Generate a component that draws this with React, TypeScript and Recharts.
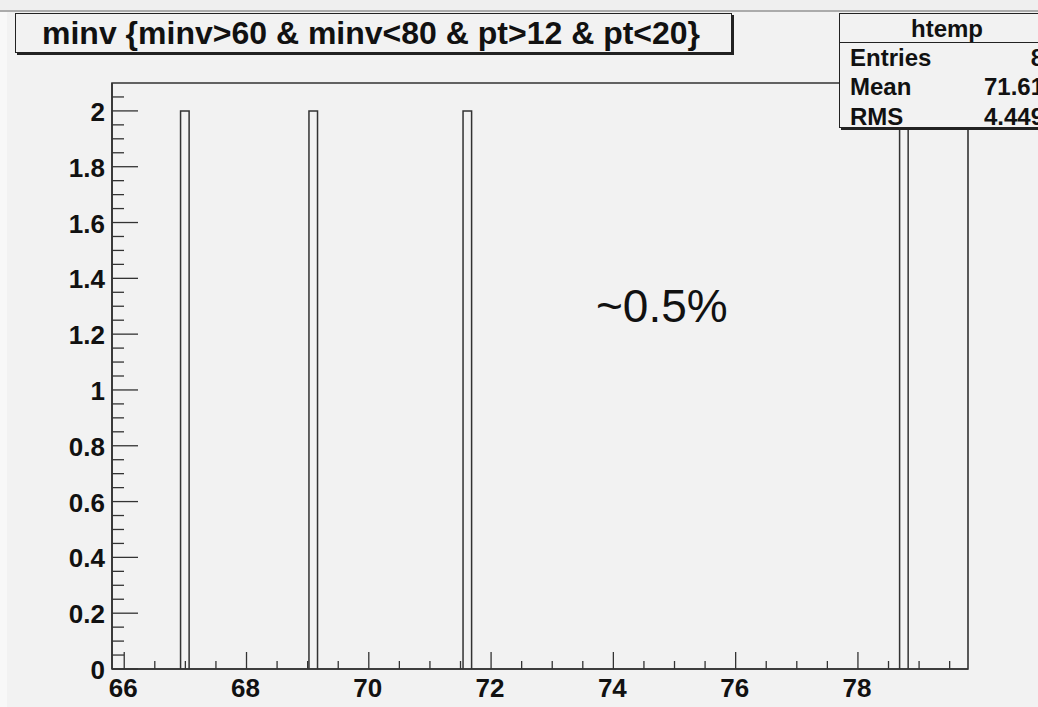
import React from "react";
import { Bar, BarChart, ReferenceArea, XAxis, YAxis } from "recharts";

// histogram htemp: 100 bins of 0.14 between 65.8 and 79.8, only 4 filled
const binCenters = [66.99, 69.09, 71.61, 78.75];
const binCounts = [2, 2, 2, 2];
const binWidth = 0.14;
const xRange = [65.8, 79.8];
const yRange = [0, 2.1];

const xMajorTicks = [66, 68, 70, 72, 74, 76, 78];
const xTicks = [
  66, 66.5, 67, 67.5, 68, 68.5, 69, 69.5, 70, 70.5, 71, 71.5, 72, 72.5,
  73, 73.5, 74, 74.5, 75, 75.5, 76, 76.5, 77, 77.5, 78, 78.5, 79, 79.5
];
const yMajorTicks = [0, 0.2, 0.4, 0.6, 0.8, 1, 1.2, 1.4, 1.6, 1.8, 2];
const yTicks = [
  0, 0.05, 0.1, 0.15, 0.2, 0.25, 0.3, 0.35, 0.4, 0.45, 0.5, 0.55, 0.6, 0.65,
  0.7, 0.75, 0.8, 0.85, 0.9, 0.95, 1, 1.05, 1.1, 1.15, 1.2, 1.25, 1.3, 1.35,
  1.4, 1.45, 1.5, 1.55, 1.6, 1.65, 1.7, 1.75, 1.8, 1.85, 1.9, 1.95, 2, 2.05
];

const title = "minv {minv>60 & minv<80 & pt>12 & pt<20}";
const statsName = "htemp";
const statsLabels = ["Entries", "Mean", "RMS"];
const statsValues = ["8", "71.61", "4.449"];
const note = "~0.5%";

const W = 1038;
const H = 707;
const margin = { top: 83, right: 70, bottom: 0, left: 52 };
const yAxisWidth = 60;
const xAxisHeight = 38;
const plotWidth = W - margin.left - margin.right - yAxisWidth;
const barSize = (plotWidth * binWidth) / (xRange[1] - xRange[0]);

const ink = "#333";
const bg = "#f2f2f2";
const font = '"Liberation Sans", Arial, Helvetica, sans-serif';

const data = binCenters.map((x, i) => ({ x, n: binCounts[i] }));

const isMajor = (list: number[], v: number) => list.some((m) => Math.abs(m - v) < 1e-6);

function XTick(props: any) {
  const { x, y, payload } = props;
  const major = isMajor(xMajorTicks, payload.value);
  return (
    <g>
      <line x1={x} y1={y} x2={x} y2={y - (major ? 17 : 8)} stroke={ink} strokeWidth={1.3} />
      {major && (
        <text x={x - 1} y={y + 28} textAnchor="middle" fontSize={26} fontWeight="bold" fontFamily={font} fill="#111">
          {payload.value}
        </text>
      )}
    </g>
  );
}

function YTick(props: any) {
  const { x, y, payload } = props;
  const major = isMajor(yMajorTicks, payload.value);
  return (
    <g>
      <line x1={x} y1={y} x2={x + (major ? 26 : 12)} y2={y} stroke={ink} strokeWidth={1.3} />
      {major && (
        <text x={x - 7} y={y + 10} textAnchor="end" fontSize={26} fontWeight="bold" fontFamily={font} fill="#111">
          {String(Number(payload.value.toFixed(1)))}
        </text>
      )}
    </g>
  );
}

export default function App() {
  return (
    <div style={{ position: "fixed", left: 0, top: 0, width: W, height: H, background: bg, overflow: "hidden", fontFamily: font }}>
      <div style={{ position: "absolute", left: 0, top: 0, width: W, height: 10, background: "#efefef" }} />
      <div style={{ position: "absolute", left: 0, top: 10, width: W, height: 2, background: "#ababab" }} />
      <div style={{ position: "absolute", left: 0, top: 12, width: 7, height: H, background: "#f8f8f8" }} />

      <div style={{ position: "absolute", left: 0, top: 0 }}>
        <BarChart width={W} height={H} data={data} margin={margin}>
          <XAxis
            dataKey="x"
            type="number"
            domain={xRange}
            ticks={xTicks}
            interval={0}
            height={xAxisHeight}
            tickLine={false}
            tickSize={0}
            tickMargin={0}
            tick={<XTick />}
            axisLine={{ stroke: ink, strokeWidth: 1.6 }}
            allowDataOverflow
          />
          <YAxis
            type="number"
            domain={yRange}
            ticks={yTicks}
            interval={0}
            width={yAxisWidth}
            tickLine={false}
            tickSize={0}
            tickMargin={0}
            tick={<YTick />}
            axisLine={{ stroke: ink, strokeWidth: 1.6 }}
            allowDataOverflow
          />
          <ReferenceArea
            x1={xRange[0]}
            x2={xRange[1]}
            y1={yRange[0]}
            y2={yRange[1]}
            fill="none"
            stroke={ink}
            strokeWidth={1.6}
            ifOverflow="visible"
          />
          <Bar dataKey="n" barSize={barSize} fill={bg} stroke={ink} strokeWidth={1.5} isAnimationActive={false} />
        </BarChart>
      </div>

      <div
        style={{
          position: "absolute",
          left: 15,
          top: 13,
          width: 689,
          height: 38,
          border: "1.5px solid #222",
          boxShadow: "2px 2px 0 #222",
          background: bg,
          fontSize: 32,
          fontWeight: "bold",
          lineHeight: "38px",
          paddingLeft: 26,
          color: "#111",
          whiteSpace: "nowrap"
        }}
      >
        {title}
      </div>

      <div
        style={{
          position: "absolute",
          left: 596,
          top: 276,
          fontSize: 46,
          lineHeight: "60px",
          color: "#111",
          whiteSpace: "nowrap"
        }}
      >
        {note}
      </div>

      <div
        style={{
          position: "absolute",
          left: 839,
          top: 13,
          width: 214,
          height: 113,
          border: "1.5px solid #222",
          boxShadow: "2px 2px 0 #222",
          background: bg,
          color: "#111"
        }}
      >
        <div style={{ height: 28, borderBottom: "1.5px solid #222", textAlign: "center", fontSize: 24, fontWeight: "bold", lineHeight: "30px" }}>
          {statsName}
        </div>
        {statsLabels.map((label, i) => (
          <div key={label} style={{ position: "relative", height: 29.3, fontSize: 24, fontWeight: "bold", lineHeight: "29px" }}>
            <span style={{ position: "absolute", left: 10 }}>{label}</span>
            <span style={{ position: "absolute", right: 10 }}>{statsValues[i]}</span>
          </div>
        ))}
      </div>
    </div>
  );
}
